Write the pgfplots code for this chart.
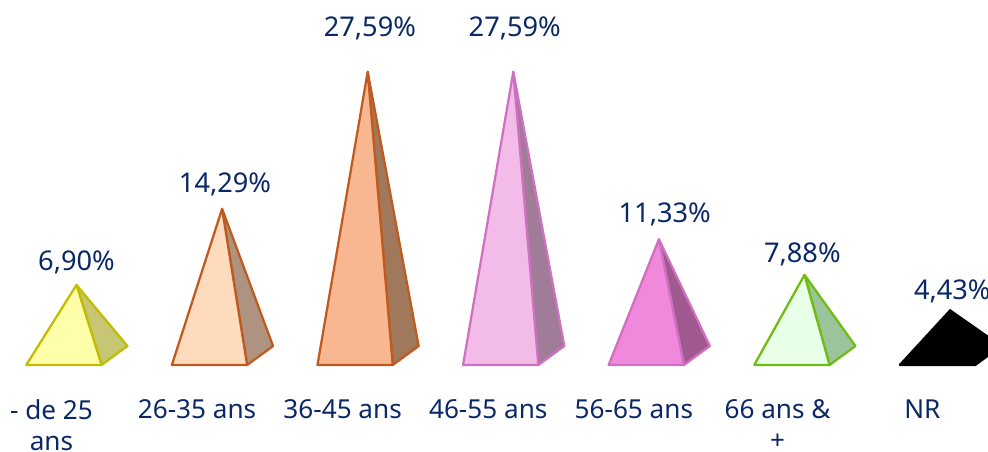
\documentclass[border=0pt]{standalone}
\usepackage{fontspec}
\setmainfont{Noto Sans}
\usepackage{pgfplots}
\pgfplotsset{compat=1.18}
\definecolor{txt}{HTML}{0A2866}
\definecolor{edgeA}{HTML}{C4BC00}
\definecolor{edgeB}{HTML}{BF5B20}
\definecolor{edgeD}{HTML}{D070C0}
\definecolor{edgeF}{HTML}{70BC10}
\definecolor{frontA}{HTML}{FFFFAA}
\definecolor{sideA}{HTML}{C6C674}
\definecolor{frontB}{HTML}{FFDBBE}
\definecolor{sideB}{HTML}{AE9380}
\definecolor{frontC}{HTML}{F8B790}
\definecolor{sideC}{HTML}{A0785C}
\definecolor{frontD}{HTML}{F3BCE8}
\definecolor{sideD}{HTML}{A07C98}
\definecolor{frontE}{HTML}{F088DC}
\definecolor{sideE}{HTML}{A05A90}
\definecolor{frontF}{HTML}{E8FFE8}
\definecolor{sideF}{HTML}{9CC49C}
\tikzset{
  val/.style={text=txt,anchor=base,font=\fontsize{20.4}{23}\selectfont,inner sep=0pt},
  face/.style n args={2}{draw=#1,fill=#2,line width=1.7pt,line join=round},
}
\begin{document}
\begin{tikzpicture}
\useasboundingbox (0,0) rectangle (741pt,338.25pt);
\begin{axis}[
  scale only axis, width=741pt, height=338.25pt,
  xmin=-0.5254, xmax=6.2603, ymin=-9.22, ymax=34.56,
  axis line style={draw=none},
  major tick length=0pt,
  ytick=\empty,
  xtick={-0.172,0.828,1.828,2.828,3.828,4.815,5.810},
  xticklabels={- de 25\\ans,26-35 ans,36-45 ans,46-55 ans,56-65 ans,66 ans \&\\+,NR},
  x tick label style={
    align=center,text=txt,anchor=north,yshift=38.8pt,inner sep=0pt,
    font=\fontsize{19.6}{23.25}\selectfont},
]
% side faces first, front faces on top; apex height is the percentage
\addplot[face={edgeA}{sideA}] coordinates {(0.172,-0.87) (0,6.90) (0.35,0.97)} --cycle;
\addplot[face={edgeA}{frontA}] coordinates {(-0.345,-0.87) (0,6.90) (0.172,-0.87)} --cycle;
\addplot[face={edgeB}{sideB}] coordinates {(1.172,-0.87) (1,14.29) (1.35,0.97)} --cycle;
\addplot[face={edgeB}{frontB}] coordinates {(0.655,-0.87) (1,14.29) (1.172,-0.87)} --cycle;
\addplot[face={edgeB}{sideC}] coordinates {(2.172,-0.87) (2,27.59) (2.35,0.97)} --cycle;
\addplot[face={edgeB}{frontC}] coordinates {(1.655,-0.87) (2,27.59) (2.172,-0.87)} --cycle;
\addplot[face={edgeD}{sideD}] coordinates {(3.172,-0.87) (3,27.59) (3.35,0.97)} --cycle;
\addplot[face={edgeD}{frontD}] coordinates {(2.655,-0.87) (3,27.59) (3.172,-0.87)} --cycle;
\addplot[face={edgeD}{sideE}] coordinates {(4.172,-0.87) (4,11.33) (4.35,0.97)} --cycle;
\addplot[face={edgeD}{frontE}] coordinates {(3.655,-0.87) (4,11.33) (4.172,-0.87)} --cycle;
\addplot[face={edgeF}{sideF}] coordinates {(5.172,-0.87) (5,7.88) (5.35,0.97)} --cycle;
\addplot[face={edgeF}{frontF}] coordinates {(4.655,-0.87) (5,7.88) (5.172,-0.87)} --cycle;
\addplot[face={black}{black}] coordinates {(6.172,-0.87) (6,4.43) (6.35,0.97)} --cycle;
\addplot[face={black}{black}] coordinates {(5.655,-0.87) (6,4.43) (6.172,-0.87)} --cycle;
\node[val] at (axis cs:0.0,8.35) {6,90\%};
\node[val] at (axis cs:1.02,15.92) {14,29\%};
\node[val] at (axis cs:2.015,30.97) {27,59\%};
\node[val] at (axis cs:3.01,30.97) {27,59\%};
\node[val] at (axis cs:4.04,12.95) {11,33\%};
\node[val] at (axis cs:4.985,9.12) {7,88\%};
\node[val] at (axis cs:6.015,5.53) {4,43\%};
\end{axis}
\end{tikzpicture}
\end{document}
